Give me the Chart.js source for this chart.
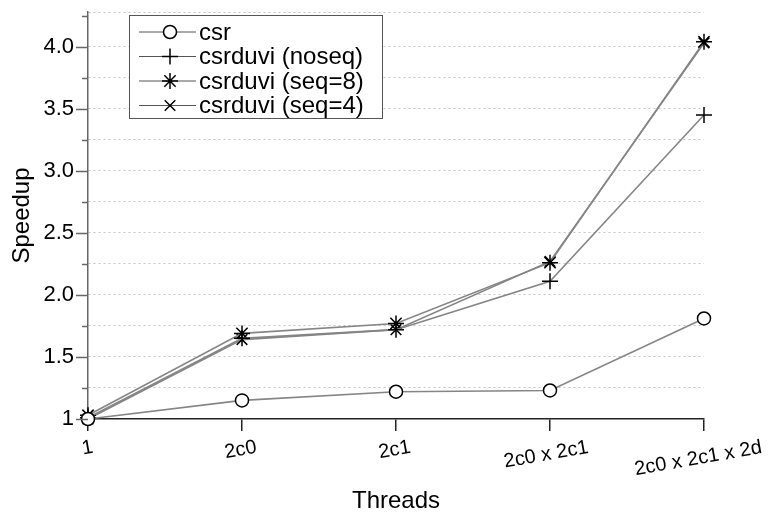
<!DOCTYPE html>
<html>
<head>
<meta charset="utf-8">
<script src="https://cdn.jsdelivr.net/npm/chart.js@4"></script>
<style>
  body { margin: 0; background: #fff; }
  canvas { display: block; }
</style>
</head>
<body>
<canvas id="myChart" width="775" height="516"></canvas>
<script>
const threads = ["1", "2c0", "2c1", "2c0 x 2c1", "2c0 x 2c1 x 2d"];
const csr = [1.00, 1.15, 1.22, 1.23, 1.81];
const noseq = [1.01, 1.65, 1.72, 2.11, 3.45];
const seq8 = [1.03, 1.69, 1.77, 2.26, 4.04];
const seq4 = [1.00, 1.64, 1.72, 2.27, 4.03];
const majorTicks = [1, 1.5, 2, 2.5, 3, 3.5, 4];

const FONT = "'Liberation Sans', Arial, sans-serif";
const LINE = "#858585";

function series(label, data, style, radius) {
  return {
    label: label,
    data: data,
    borderColor: LINE,
    borderWidth: 1.6,
    tension: 0,
    fill: false,
    pointStyle: style,
    pointRadius: radius,
    pointHoverRadius: radius,
    pointBorderColor: "#000",
    pointBackgroundColor: "#fff",
    pointBorderWidth: 1.5,
    clip: false
  };
}

const datasets = [
  series("csr", csr, "circle", 6.5),
  series("csrduvi (noseq)", noseq, "cross", 8),
  series("csrduvi (seq=8)", seq8, "star", 8),
  series("csrduvi (seq=4)", seq4, "crossRot", 7.5)
];

// tick marks on y, rotated x labels, boxed legend
const decor = {
  id: "decor",
  afterDraw(chart) {
    const ctx = chart.ctx;
    const y = chart.scales.y;
    const x = chart.scales.x;
    const left = chart.chartArea.left;
    ctx.save();
    ctx.strokeStyle = "#666";
    ctx.lineWidth = 1.5;
    for (let v = 1; v <= 4.26; v += 0.25) {
      const py = Math.round(y.getPixelForValue(v)) + 0.5;
      const len = majorTicks.some(m => Math.abs(m - v) < 1e-6) ? 12 : 6;
      ctx.beginPath();
      ctx.moveTo(left - len, py);
      ctx.lineTo(left, py);
      ctx.stroke();
    }

    ctx.fillStyle = "#000";
    ctx.font = "20px " + FONT;
    ctx.textAlign = "center";
    ctx.textBaseline = "middle";
    threads.forEach((t, i) => {
      const w = ctx.measureText(t).width;
      const px = x.getPixelForValue(i);
      ctx.save();
      ctx.translate(px - 0.045 * w, chart.chartArea.bottom + 28 + 0.09 * w);
      ctx.rotate(-10 * Math.PI / 180);
      ctx.fillText(t, 0, 0);
      ctx.restore();
    });

    // legend
    const bx = 129.5, by = 15.5, bw = 253, bh = 103;
    ctx.fillStyle = "#fff";
    ctx.fillRect(bx, by, bw, bh);
    ctx.strokeStyle = "#555";
    ctx.lineWidth = 1;
    ctx.strokeRect(bx, by, bw, bh);
    ctx.font = "24px " + FONT;
    ctx.textAlign = "left";
    datasets.forEach((ds, i) => {
      const ry = 32 + i * 24.5;
      ctx.strokeStyle = "#555";
      ctx.lineWidth = 1;
      ctx.beginPath();
      ctx.moveTo(139, ry);
      ctx.lineTo(196, ry);
      ctx.stroke();
      ctx.strokeStyle = "#000";
      ctx.fillStyle = "#fff";
      ctx.lineWidth = 1.5;
      Chart.helpers.drawPoint(ctx, {
        pointStyle: ds.pointStyle, radius: ds.pointRadius, borderWidth: 1.5, rotation: 0
      }, 170, ry);
      ctx.fillStyle = "#000";
      ctx.fillText(ds.label, 199, ry + 1);
    });
    ctx.restore();
  }
};

new Chart("myChart", {
  type: "line",
  data: {
    labels: threads,
    datasets: datasets
  },
  options: {
    responsive: false,
    animation: false,
    devicePixelRatio: 1,
    layout: { padding: { top: 12, right: 71, left: 0, bottom: 0 } },
    plugins: {
      legend: { display: false },
      tooltip: { enabled: false }
    },
    scales: {
      x: {
        type: "category",
        offset: false,
        grid: { drawOnChartArea: false, drawTicks: true, tickLength: 12, color: "#222", lineWidth: 1.5 },
        border: { color: "#222", width: 1.5 },
        ticks: { display: false },
        title: {
          display: true,
          text: "Threads",
          color: "#000",
          font: { family: FONT, size: 24 },
          padding: { top: 0, bottom: 0 }
        },
        afterFit: s => { s.height = 97; s.paddingLeft = 0; s.paddingRight = 0; }
      },
      y: {
        min: 1,
        max: 4.28,
        afterFit: s => { s.width = 88; s.paddingTop = 0; s.paddingBottom = 0; },
        grid: {
          drawTicks: false,
          color: ctx => ctx.tick && ctx.tick.value === 1 ? "rgba(0,0,0,0)" : "#c4c4c4",
          lineWidth: 1
        },
        border: { color: "#666", width: 1.5, dash: [2, 3] },
        ticks: {
          stepSize: 0.25,
          autoSkip: false,
          padding: 14,
          color: "#000",
          font: { family: FONT, size: 22 },
          callback: v => {
            if (!majorTicks.some(m => Math.abs(m - v) < 1e-6)) return "";
            return v === 1 ? "1" : v.toFixed(1);
          }
        },
        title: {
          display: true,
          text: "Speedup",
          color: "#000",
          font: { family: FONT, size: 24 },
          padding: { top: 8, bottom: 0 }
        }
      }
    }
  },
  plugins: [decor]
});
</script>
</body>
</html>
